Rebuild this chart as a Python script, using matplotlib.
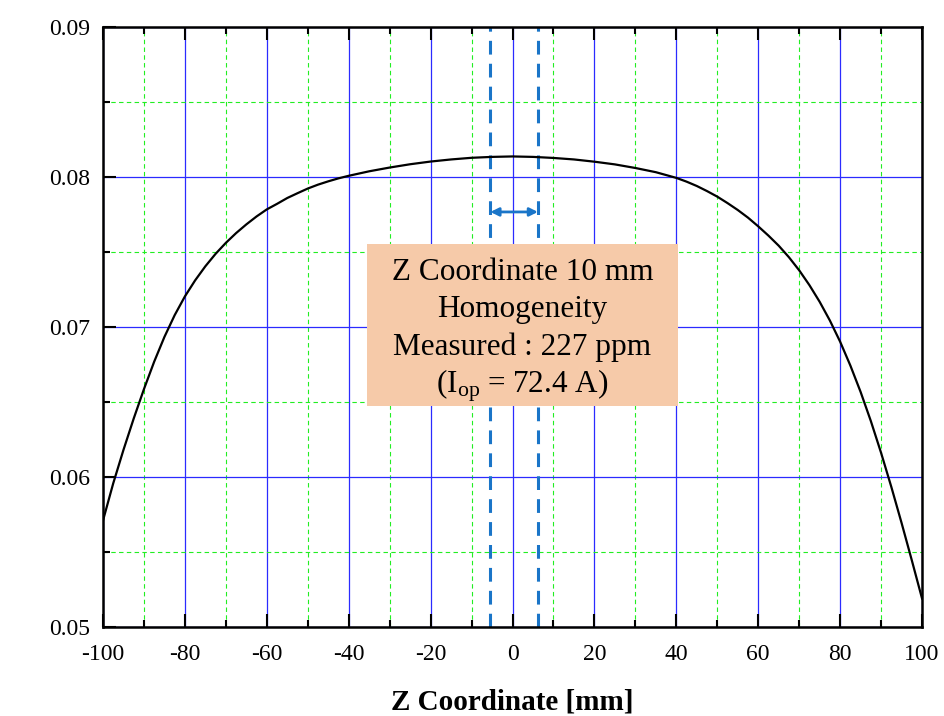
import matplotlib
matplotlib.use("Agg")
import matplotlib.pyplot as plt
from matplotlib.patches import Rectangle
from matplotlib.ticker import MultipleLocator

# ---- data ----
z_mm = [-100, -97.5, -95, -92.5, -90, -87.5, -85, -82.5, -80, -77.5, -75, -72.5,
        -70, -67.5, -65, -62.5, -60, -57.5, -55, -52.5, -50, -47.5, -45, -42.5,
        -40, -35, -30, -25, -20, -15, -10, -5, 0, 5, 10, 15, 20, 25, 30, 35, 40,
        42.5, 45, 47.5, 50, 52.5, 55, 57.5, 60, 62.5, 65, 67.5, 70, 72.5, 75,
        77.5, 80, 82.5, 85, 87.5, 90, 92.5, 95, 97.5, 100]
field = [0.05710, 0.05958, 0.06181, 0.06390, 0.06586, 0.06769, 0.06934, 0.07079,
         0.07204, 0.07311, 0.07405, 0.07488, 0.07561, 0.07626, 0.07684, 0.07737,
         0.07784, 0.07821, 0.07860, 0.07892, 0.07923, 0.07949, 0.07971, 0.07991,
         0.08008, 0.08038, 0.08063, 0.08085, 0.08103, 0.08117, 0.08128, 0.08134,
         0.08137, 0.08134, 0.08127, 0.08117, 0.08102, 0.08084, 0.08060, 0.08032,
         0.07994, 0.07969, 0.07940, 0.07906, 0.07869, 0.07826, 0.07780, 0.07729,
         0.07671, 0.07609, 0.07542, 0.07465, 0.07378, 0.07279, 0.07168, 0.07043,
         0.06902, 0.06743, 0.06567, 0.06373, 0.06161, 0.05934, 0.05694, 0.05445,
         0.05190]
window_edges = [-5.4, 6.2]
x_ticks = [-100, -80, -60, -40, -20, 0, 20, 40, 60, 80, 100]
y_ticks = [0.05, 0.06, 0.07, 0.08, 0.09]
x_tick_labels = ["-100", "-80", "-60", "-40", "-20", "0", "20", "40", "60", "80", "100"]
y_tick_labels = ["0.05", "0.06", "0.07", "0.08", "0.09"]
box_lines = ["Z Coordinate 10 mm", "Homogeneity", "Measured : 227 ppm",
             r"($\mathrm{I_{op}}$ = 72.4 A)"]
xlabel = "Z Coordinate [mm]"

plt.rcParams['font.family'] = ['Liberation Serif', 'DejaVu Serif']
plt.rcParams['mathtext.fontset'] = 'custom'
plt.rcParams['mathtext.rm'] = 'Liberation Serif'
plt.rcParams['mathtext.it'] = 'Liberation Serif:italic'
plt.rcParams['axes.unicode_minus'] = False

fig = plt.figure(figsize=(9.45, 7.16), dpi=100)
ax = fig.add_axes([0.109, 0.1243, 0.8667, 0.838])

ax.set_xlim(-100, 100)
ax.set_ylim(0.05, 0.09)
ax.set_xticks(x_ticks)
ax.set_xticklabels(x_tick_labels)
ax.set_yticks(y_ticks)
ax.set_yticklabels(y_tick_labels)
ax.xaxis.set_minor_locator(MultipleLocator(10))
ax.yaxis.set_minor_locator(MultipleLocator(0.005))

ax.set_axisbelow(True)
ax.grid(which='major', color='#2b2bff', linewidth=0.9, zorder=0)
ax.grid(which='minor', color='#22ee22', linewidth=0.8, linestyle=(0, (4, 3)), zorder=0)

ax.tick_params(which='both', direction='in', top=True, right=False, width=1.5,
               labelsize=17, colors='black')
ax.tick_params(which='major', length=9.4)
ax.tick_params(which='minor', length=5)
ax.tick_params(axis='x', which='major', pad=12)
ax.tick_params(axis='y', which='major', pad=9)
for s in ax.spines.values():
    s.set_linewidth(1.8)

ax.plot(z_mm, field, color='black', linewidth=1.6, zorder=3,
        solid_joinstyle='round')

blue = '#1a75c8'
for xe in window_edges:
    ax.axvline(xe, color=blue, linewidth=2.2, linestyle=(0, (4.5, 3)), zorder=2)
ax.annotate('', xy=(window_edges[0], 0.07767), xytext=(window_edges[1], 0.07767),
            arrowprops=dict(arrowstyle='<|-|>', color=blue, lw=2,
                            mutation_scale=12, shrinkA=0, shrinkB=0), zorder=4)

ax.add_patch(Rectangle((-35.46, 0.06473), 75.96, 0.0108, facecolor='#f6caa9',
                       edgecolor='none', zorder=5))
baselines = [0.07313, 0.07067, 0.06813, 0.06560]
for txt, yb in zip(box_lines, baselines):
    ax.text(2.4, yb, txt, ha='center', va='baseline', fontsize=22.5, zorder=6)

ax.set_xlabel(xlabel, fontsize=21, fontweight='bold', labelpad=17)

fig.savefig('out.png', dpi=100)
